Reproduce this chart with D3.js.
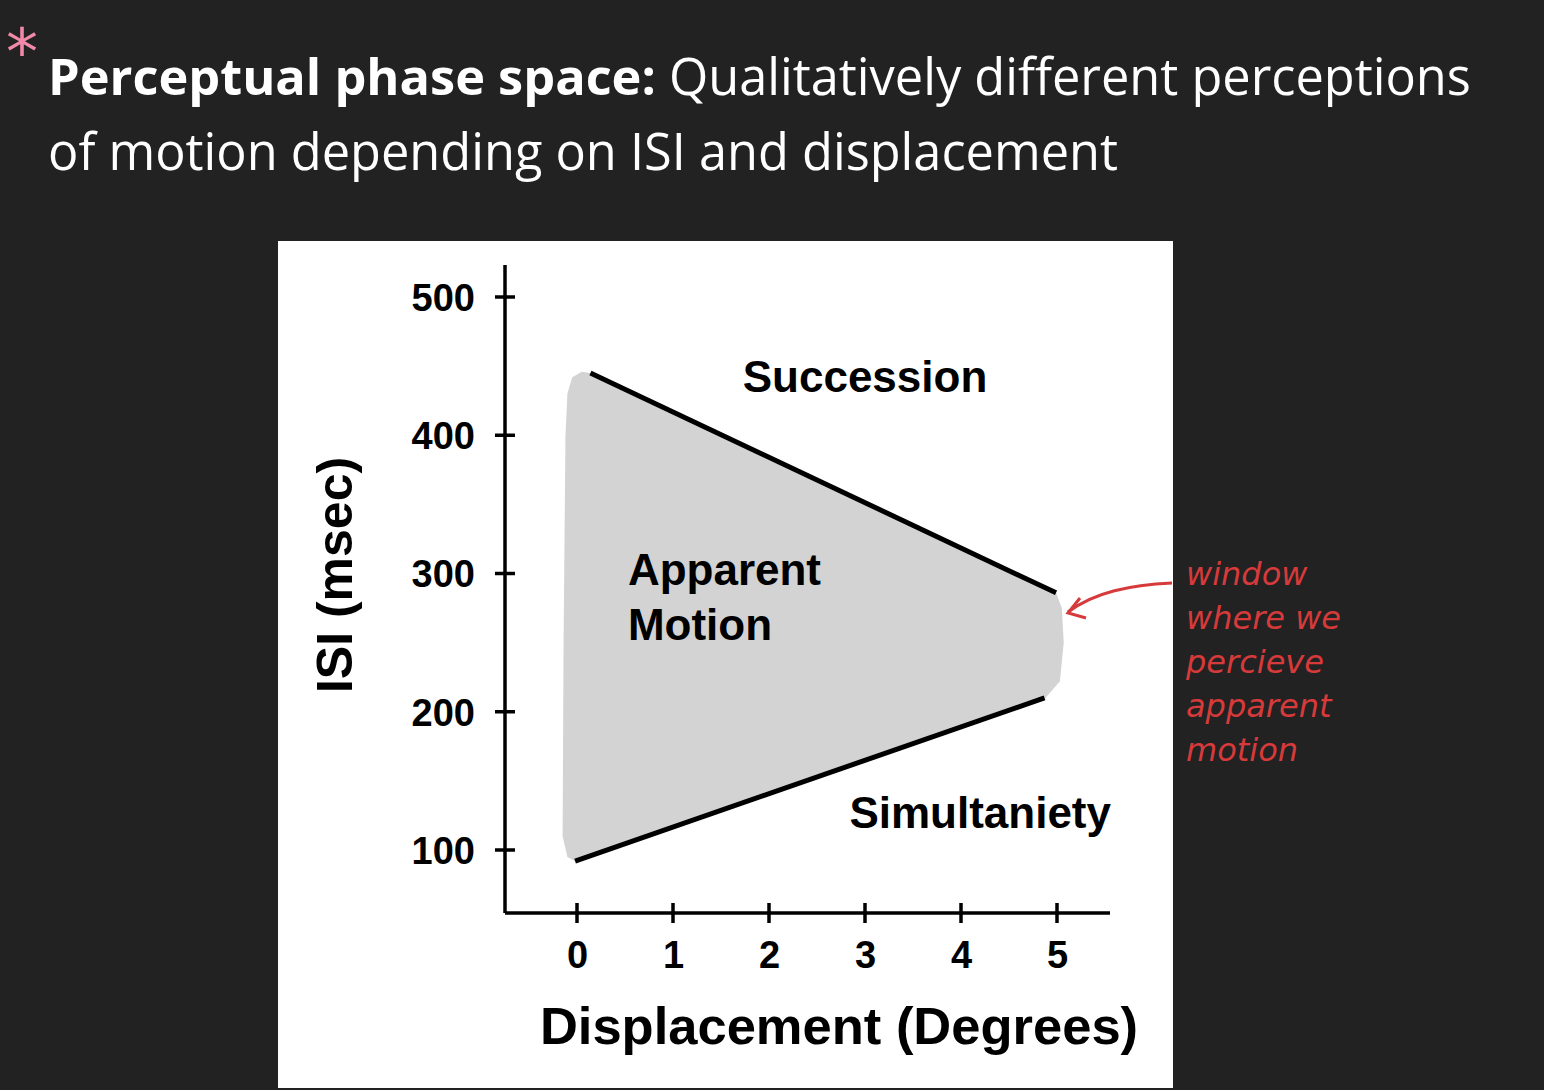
<!DOCTYPE html>
<html><head><meta charset="utf-8">
<script src="https://cdn.jsdelivr.net/npm/d3@7"></script>
<style>body{margin:0;background:#222;}svg{display:block}</style>
</head><body>
<script>
const xTicks = [0,1,2,3,4,5];
const yTicks = [100,200,300,400,500];
const upperLine = [[0.14,445],[4.99,286]];
const lowerLine = [[-0.02,92],[4.87,210]];
const region = [[-0.1,430],[-0.05,442],[0.05,446],[0.14,445],[4.99,286],[5.05,275],[5.07,250],[5.03,222],[4.88,210],[-0.02,92],[-0.1,95],[-0.15,110],[-0.14,250],[-0.12,400]];
const regionLabels = [
  {lines:["Succession"], x:3.0, y:431, anchor:"middle"},
  {lines:["Apparent","Motion"], x:0.53, y:292, anchor:"start"},
  {lines:["Simultaniety"], x:4.2, y:116, anchor:"middle"}
];
const noteLines = ["window","where we","percieve","apparent","motion"];

const W=1544,H=1090;
const svg=d3.select("body").append("svg").attr("width",W).attr("height",H);
svg.append("rect").attr("width",W).attr("height",H).attr("fill","#222");
svg.append("text").attr("x",6).attr("y",74).attr("fill","#f08aa8").attr("font-size",64)
  .attr("font-family","DejaVu Sans").text("*");
const t=svg.append("text").attr("font-family","'Open Sans'").attr("font-size",50.5).attr("fill","#fff");
const l1=t.append("tspan").attr("x",48).attr("y",95);
l1.append("tspan").attr("font-weight","bold").text("Perceptual phase space: ");
l1.append("tspan").text("Qualitatively different perceptions");
t.append("tspan").attr("x",48).attr("y",170).text("of motion depending on ISI and displacement");

svg.append("rect").attr("x",278).attr("y",241).attr("width",895).attr("height",847).attr("fill","#fff");

const x=d3.scaleLinear().domain([0,5]).range([577,1057]);
const y=d3.scaleLinear().domain([100,500]).range([850,297]);
const font="Liberation Sans, Arial";

svg.append("path").attr("d",d3.line().curve(d3.curveLinearClosed)(region.map(d=>[x(d[0]),y(d[1])])))
  .attr("fill","#d3d3d3");
[upperLine,lowerLine].forEach(l=>svg.append("line").attr("x1",x(l[0][0])).attr("y1",y(l[0][1]))
  .attr("x2",x(l[1][0])).attr("y2",y(l[1][1])).attr("stroke","#000").attr("stroke-width",5));

const xa=svg.append("g").attr("transform","translate(0,913)")
  .call(d3.axisBottom(x).tickValues(xTicks).tickFormat(d3.format("d")).tickSize(0).tickPadding(28));
xa.select(".domain").remove();
xa.append("line").attr("x1",505).attr("x2",1110).attr("stroke","#000").attr("stroke-width",3.5);
xTicks.forEach(v=>xa.append("line").attr("x1",x(v)).attr("x2",x(v)).attr("y1",-10).attr("y2",10).attr("stroke","#000").attr("stroke-width",3.5));
xa.selectAll(".tick text").attr("font-family",font).attr("font-weight","bold").attr("font-size",38).attr("fill","#000");

const ya=svg.append("g").attr("transform","translate(505,0)")
  .call(d3.axisLeft(y).tickValues(yTicks).tickSize(0).tickPadding(30));
ya.select(".domain").remove();
ya.append("line").attr("y1",265).attr("y2",913).attr("stroke","#000").attr("stroke-width",3.5);
yTicks.forEach(v=>ya.append("line").attr("y1",y(v)).attr("y2",y(v)).attr("x1",-10).attr("x2",10).attr("stroke","#000").attr("stroke-width",3.5));
ya.selectAll(".tick text").attr("font-family",font).attr("font-weight","bold").attr("font-size",38).attr("fill","#000").attr("dy","0.35em");

svg.append("text").attr("x",839).attr("y",1044).attr("text-anchor","middle").attr("font-family",font)
  .attr("font-weight","bold").attr("font-size",52.5).text("Displacement (Degrees)");
svg.append("text").attr("transform","translate(352,575) rotate(-90)").attr("text-anchor","middle").attr("font-family",font)
  .attr("font-weight","bold").attr("font-size",50).text("ISI (msec)");

regionLabels.forEach(r=>{
  const tx=svg.append("text").attr("font-family",font).attr("font-weight","bold").attr("font-size",44).attr("text-anchor",r.anchor);
  r.lines.forEach((s,i)=>tx.append("tspan").attr("x",x(r.x)).attr("y",y(r.y)+i*55).text(s));
});

const red="#d63a3a";
svg.append("path").attr("d","M1172,583 C1130,585 1095,592 1068,612").attr("fill","none").attr("stroke",red).attr("stroke-width",3);
svg.append("path").attr("d","M1080,598 L1068,613 L1086,618").attr("fill","none").attr("stroke",red).attr("stroke-width",3);
const nt=svg.append("text").attr("font-family","DejaVu Sans").attr("font-style","italic").attr("font-size",32).attr("fill",red);
noteLines.forEach((s,i)=>nt.append("tspan").attr("x",1186).attr("y",585+i*44).text(s));
</script>
</body></html>
